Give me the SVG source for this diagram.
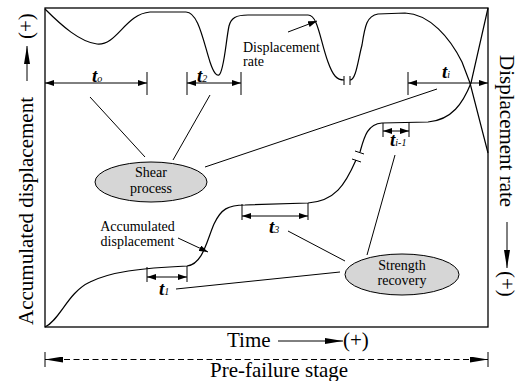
<svg xmlns="http://www.w3.org/2000/svg" width="519" height="381" viewBox="0 0 519 381" font-family="'Liberation Serif', 'Times New Roman', 'DejaVu Serif', serif">
<defs>
<marker id="ah" markerUnits="userSpaceOnUse" markerWidth="9" markerHeight="6" refX="9" refY="3" orient="auto-start-reverse"><path d="M0,0 L9,3 L0,6 z" fill="#000"/></marker>
<marker id="ahl" markerUnits="userSpaceOnUse" markerWidth="18" markerHeight="6" refX="18" refY="3" orient="auto-start-reverse"><path d="M0,0 L18,3 L0,6 z" fill="#000"/></marker>
<style>
.ln{fill:none;stroke:#000;stroke-width:1}
.cv{fill:none;stroke:#000;stroke-width:1.2}
.t{font-size:14px;fill:#000}
.big{font-size:21px;fill:#000}
.tl{font-size:19px;font-style:italic;font-weight:bold;fill:#000}
.sub{font-size:10px;font-weight:normal}
.el{fill:#d6d6d6;stroke:#000;stroke-width:1}
</style>
</defs>
<rect x="45" y="8" width="443" height="319" fill="#fff" stroke="#000" stroke-width="1.3"/>

<g id="curves">
<path class="cv" d="M45,9 C62,26 80,42 97,44 C117,46 125,14 150,12 L186,12 C198,12 203,40 210,62 C214,74 217,76 219,75 C224,72 226,40 229,26 C231,18 236,15 248,15 L308,15 C318,15 320,40 328,62 C333,76 337,80 344,80"/>
<path class="ln" d="M344,76 V85 M350,76 V85"/>
<path class="cv" d="M350,80 C356,80 358,60 362,45 C365,25 367,16 378,14 L405,13 C430,14 450,38 462,62 L470,83 L488,153"/>
<path class="cv" d="M45,327 C60,320 68,292 90,282 C110,272 140,268 187,266 C203,264 207,240 214,224 C221,209 228,205 245,205 L308,203 C335,201 345,185 356,160"/>
<path class="ln" d="M352,159 L361,162 M355,151 L364,154"/>
<path class="cv" d="M360,152 C364,138 367,124 382,123 L428,122 C452,120 463,103 471,83 L488,8"/>
</g>

<g id="connectors">
<path class="ln" d="M147,72 V95 M187,72 V95 M241,72 V95 M408,72 V95"/>
<path class="ln" marker-start="url(#ah)" marker-end="url(#ah)" d="M45,83 H147"/>
<path class="ln" marker-start="url(#ah)" marker-end="url(#ah)" d="M187,83 H241"/>
<path class="ln" marker-start="url(#ah)" marker-end="url(#ah)" d="M408,83 H488"/>
<path class="ln" d="M147,267 V282 M187,266 V282"/>
<path class="ln" marker-start="url(#ah)" marker-end="url(#ah)" d="M147,277 H187"/>
<path class="ln" d="M242,204 V220 M308,203 V220"/>
<path class="ln" marker-start="url(#ah)" marker-end="url(#ah)" d="M242,216 H308"/>
<path class="ln" d="M383,123 V137 M409,122 V137"/>
<path class="ln" marker-start="url(#ah)" marker-end="url(#ah)" d="M383,131 H409"/>
<path class="ln" d="M90,97 L145,157 M210,95 L173,160 M205,167 L437,89"/>
<path class="ln" d="M395,155 L367,255 M288,231 L345,261 M176,289 L340,272"/>
<path class="ln" marker-end="url(#ah)" d="M178,238 L208,252"/>
<path class="ln" marker-end="url(#ah)" d="M288,32 L317,21"/>
</g>

<g id="shear">
<ellipse class="el" cx="151" cy="182" rx="56" ry="20"/>
<text class="t" x="151" y="177" text-anchor="middle">Shear</text>
<text class="t" x="151" y="193" text-anchor="middle">process</text>
</g>
<g id="strength">
<ellipse class="el" cx="402" cy="274.5" rx="57" ry="20.5"/>
<text class="t" x="402" y="270" text-anchor="middle">Strength</text>
<text class="t" x="402" y="285" text-anchor="middle">recovery</text>
</g>

<g id="labels">
<text class="t" x="243" y="52">Displacement</text>
<text class="t" x="243" y="66">rate</text>
<text class="t" x="137.5" y="231" text-anchor="middle">Accumulated</text>
<text class="t" x="137.5" y="246" text-anchor="middle">displacement</text>
<text class="tl" x="92" y="82">t<tspan class="sub">o</tspan></text>
<text class="tl" x="197" y="82">t<tspan class="sub">2</tspan></text>
<text class="tl" x="442" y="78">t<tspan class="sub">i</tspan></text>
<text class="tl" x="159" y="295">t<tspan class="sub">1</tspan></text>
<text class="tl" x="269" y="233">t<tspan class="sub">3</tspan></text>
<text class="tl" x="390" y="146">t<tspan class="sub">i-1</tspan></text>
</g>

<g id="axes">
<text class="big" transform="translate(33,325) rotate(-90)">Accumulated displacement</text>
<path class="ln" marker-end="url(#ahl)" d="M27,81 V46"/>
<text class="big" transform="translate(33,39) rotate(-90)">(+)</text>
<text class="big" transform="translate(500,55) rotate(90)">Displacement rate</text>
<path class="ln" marker-end="url(#ahl)" d="M507,222 V268"/>
<text class="big" transform="translate(500,271) rotate(90)">(+)</text>
<text class="big" x="227" y="347">Time</text>
<path class="ln" marker-end="url(#ahl)" d="M278,341 H343"/>
<text class="big" x="343" y="347">(+)</text>
<path class="ln" d="M45,352 V367 M488,352 V367"/>
<path class="ln" stroke-dasharray="6,3.5" marker-start="url(#ahl)" marker-end="url(#ahl)" d="M45,359.5 H488"/>
<text class="big" x="210" y="377">Pre-failure stage</text>
</g>
</svg>
